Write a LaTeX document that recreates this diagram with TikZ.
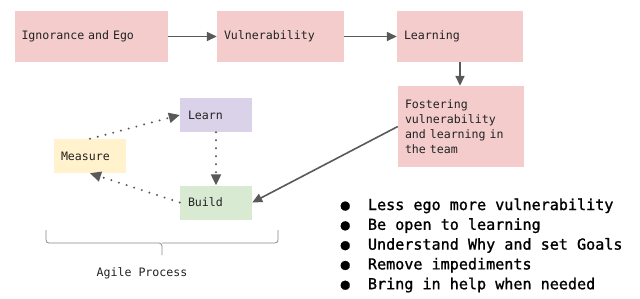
\documentclass[tikz,border=0pt]{standalone}
\usepackage{fontspec}
\setmonofont{DejaVu Sans Mono}
\newfontfamily\semimono[FakeBold=1.2]{DejaVu Sans Mono}
\usetikzlibrary{arrows.meta}
\definecolor{pinkbox}{HTML}{F4CCCC}
\definecolor{purplebox}{HTML}{D9D2E9}
\definecolor{yellowbox}{HTML}{FFF2CC}
\definecolor{greenbox}{HTML}{D9EAD3}
\definecolor{arrowgray}{HTML}{595959}
\definecolor{bracegray}{HTML}{8A8A8A}
\definecolor{txt}{HTML}{222222}
\begin{document}
\begin{tikzpicture}[x=1pt,y=-1pt,
  box/.style={rectangle, draw=none, inner xsep=7pt, inner ysep=0pt, align=left,
    text=txt, font=\ttfamily\fontsize{11.6}{15}\selectfont},
  solidarrow/.style={draw=arrowgray, line width=1.6pt, -{Triangle[length=10pt,width=9pt]}},
  dotarrow/.style={draw=arrowgray, line width=2.2pt, line cap=round,
    dash pattern=on 0pt off 8pt, -{Triangle[length=11pt,width=10pt,line cap=butt]}},
  bullet/.style={anchor=base west, inner sep=0pt, text=black,
    font=\semimono\fontsize{15.1}{19.8}\selectfont}
]
\useasboundingbox (0,0) rectangle (640,298);
\fill[white] (0,0) rectangle (640,298);

% top row
\node[box, fill=pinkbox, minimum width=153pt, minimum height=51pt, text width=139pt] (ign) at (91,36.5) {Ignorance and Ego};
\node[box, fill=pinkbox, minimum width=127pt, minimum height=51pt, text width=113pt] (vul) at (280.5,36.5) {Vulnerability};
\node[box, fill=pinkbox, minimum width=126pt, minimum height=51pt, text width=112pt] (lea) at (460,36.5) {Learning};
\node[box, fill=pinkbox, minimum width=126pt, minimum height=81pt, text width=112pt] (fos) at (461,126.5) {Fostering\\vulnerability\\and learning in\\the team};

% agile loop
\node[box, fill=purplebox, inner xsep=8pt, minimum width=72pt, minimum height=34pt, text width=56pt] (learn) at (216,115) {Learn};
\node[box, fill=yellowbox, minimum width=72pt, minimum height=34pt, text width=58pt] (meas) at (90,156) {Measure};
\node[box, fill=greenbox, inner xsep=8pt, minimum width=72pt, minimum height=34pt, text width=56pt] (build) at (216,202.5) {Build};

% solid arrows
\draw[solidarrow] (ign) -- (vul);
\draw[solidarrow] (vul) -- (lea);
\draw[solidarrow] (lea.south) -- (lea.south |- fos.north);
\draw[solidarrow] (fos.west) -- (build.east);

% dotted arrows
\draw[dotarrow] (meas.north) -- (learn.west);
\draw[dotarrow] (learn.south) -- (build.north);
\draw[dotarrow] (build.west) -- (meas.south);

% brace
\draw[bracegray, line width=0.8pt, rounded corners=3pt]
  (46,230) -- (46,243) -- (162,243) -- (162,255);
\draw[bracegray, line width=0.8pt, rounded corners=3pt]
  (278,230) -- (278,243) -- (162,243);
\node[box, anchor=center, inner sep=0pt] (agile) at (142,273) {Agile Process};

% bullet list
\node[bullet] (b1) at (340.5,210) {●\ \ Less ego more vulnerability};
\node[bullet] (b2) at (340.5,229.8) {●\ \ Be open to learning};
\node[bullet] (b3) at (340.5,249.6) {●\ \ Understand Why and set Goals};
\node[bullet] (b4) at (340.5,269.4) {●\ \ Remove impediments};
\node[bullet] (b5) at (340.5,289.2) {●\ \ Bring in help when needed};
\end{tikzpicture}
\end{document}
